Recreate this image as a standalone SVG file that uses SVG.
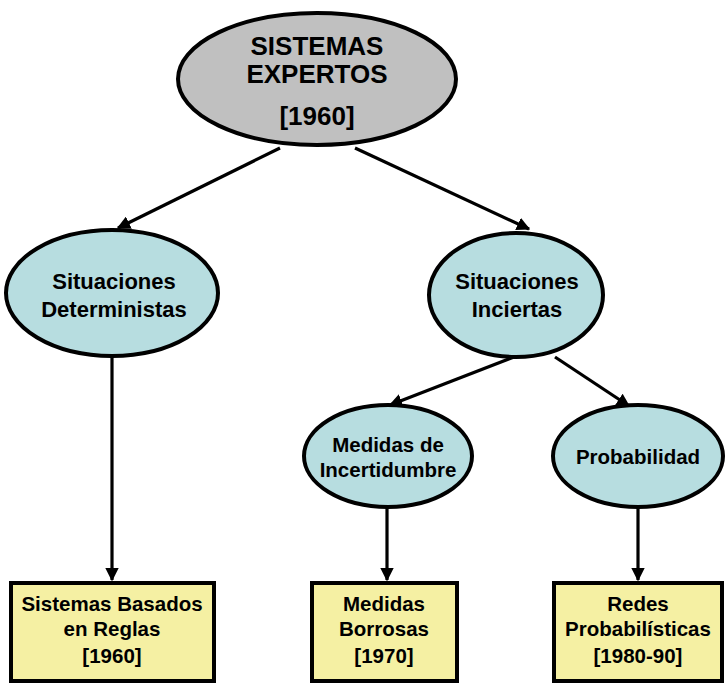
<svg xmlns="http://www.w3.org/2000/svg" width="726" height="684" viewBox="0 0 726 684">
  <defs>
    <marker id="arrow" viewBox="0 0 10 10" refX="9" refY="5" markerWidth="4.2" markerHeight="4.2" orient="auto" markerUnits="strokeWidth">
      <path d="M0,0 L10,5 L0,10 Z" fill="#000"/>
    </marker>
  </defs>
  <style>
    .lbl { font-family: "Liberation Sans", Arial, sans-serif; font-weight: bold; fill: #000; text-anchor: middle; }
    .ell { stroke: #000; stroke-width: 4; }
    .root { fill: #c0c0c0; }
    .mid { fill: #b7dde0; }
    .box { fill: #f5f0a3; stroke: #000; stroke-width: 4; }
    .edge { stroke: #000; stroke-width: 3.2; fill: none; marker-end: url(#arrow); }
  </style>
  <rect width="726" height="684" fill="#fff"/>

  <g id="connectors">
    <line class="edge" x1="280" y1="148" x2="118" y2="228"/>
    <line class="edge" x1="355" y1="148" x2="529" y2="229"/>
    <line class="edge" x1="112" y1="358" x2="112" y2="580"/>
    <line class="edge" x1="514" y1="357" x2="390" y2="405"/>
    <line class="edge" x1="555" y1="357" x2="629" y2="406"/>
    <line class="edge" x1="387" y1="508" x2="387" y2="580"/>
    <line class="edge" x1="638" y1="508" x2="638" y2="580"/>
  </g>

  <g id="sistemas-expertos">
    <ellipse class="ell root" cx="317" cy="79" rx="139" ry="66"/>
    <text class="lbl" x="317" y="55" font-size="26">SISTEMAS</text>
    <text class="lbl" x="317" y="83" font-size="26">EXPERTOS</text>
    <text class="lbl" x="317" y="125" font-size="26">[1960]</text>
  </g>

  <g id="situaciones-deterministas">
    <ellipse class="ell mid" cx="112" cy="293" rx="106" ry="63"/>
    <text class="lbl" x="114" y="289" font-size="22">Situaciones</text>
    <text class="lbl" x="114" y="317" font-size="22">Deterministas</text>
  </g>

  <g id="situaciones-inciertas">
    <ellipse class="ell mid" cx="516" cy="295" rx="87" ry="62"/>
    <text class="lbl" x="517" y="289" font-size="22">Situaciones</text>
    <text class="lbl" x="517" y="317" font-size="22">Inciertas</text>
  </g>

  <g id="medidas-incertidumbre">
    <ellipse class="ell mid" cx="388" cy="456" rx="84" ry="51"/>
    <text class="lbl" x="388" y="452" font-size="20.5">Medidas de</text>
    <text class="lbl" x="388" y="477" font-size="20.5">Incertidumbre</text>
  </g>

  <g id="probabilidad">
    <ellipse class="ell mid" cx="638" cy="456" rx="85" ry="51"/>
    <text class="lbl" x="638" y="464" font-size="20.5">Probabilidad</text>
  </g>

  <g id="sistemas-basados">
    <rect class="box" x="11" y="583" width="203" height="98"/>
    <text class="lbl" x="112" y="611" font-size="20.5">Sistemas Basados</text>
    <text class="lbl" x="112" y="636" font-size="20.5">en Reglas</text>
    <text class="lbl" x="112" y="663" font-size="20.5">[1960]</text>
  </g>

  <g id="medidas-borrosas">
    <rect class="box" x="312" y="583" width="145" height="98"/>
    <text class="lbl" x="384" y="611" font-size="20.5">Medidas</text>
    <text class="lbl" x="384" y="636" font-size="20.5">Borrosas</text>
    <text class="lbl" x="384" y="663" font-size="20.5">[1970]</text>
  </g>

  <g id="redes-probabilisticas">
    <rect class="box" x="554" y="583" width="168" height="98"/>
    <text class="lbl" x="638" y="611" font-size="20.5">Redes</text>
    <text class="lbl" x="638" y="636" font-size="20.5">Probabilísticas</text>
    <text class="lbl" x="638" y="663" font-size="20.5">[1980-90]</text>
  </g>
</svg>
